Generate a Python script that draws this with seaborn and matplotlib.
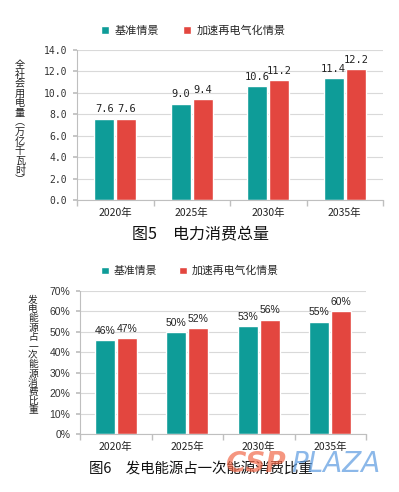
import matplotlib
matplotlib.use("Agg")
import matplotlib.pyplot as plt
import seaborn as sns
import pandas as pd

sns.set_theme(style="white")
plt.rcParams['font.family'] = ['Noto Sans CJK SC', 'DejaVu Sans']

years = ["2020年", "2025年", "2030年", "2035年"]
scenarios = ["基准情景", "加速再电气化情景"]
power_base = [7.6, 9.0, 10.6, 11.4]
power_fast = [7.6, 9.4, 11.2, 12.2]
share_base = [46, 50, 53, 55]
share_fast = [47, 52, 56, 60]
y1_ticks = [0, 2, 4, 6, 8, 10, 12, 14]
y2_ticks = [0, 10, 20, 30, 40, 50, 60, 70]
title1 = "图5　电力消费总量"
title2 = "图6　发电能源占一次能源消费比重"
ylabel1 = "全社会用电量︵万亿千瓦时︶"
ylabel2 = "发电能源占一次能源消费比重"

colors = ["#0E9C98", "#E3463F"]
W, H = 399, 492
fig = plt.figure(figsize=(W / 100, H / 100), dpi=100)
fig.patch.set_facecolor("white")


def px_axes(x0, y0, x1, y1):
    return fig.add_axes([x0 / W, 1 - y1 / H, (x1 - x0) / W, (y1 - y0) / H])


def make_df(a, b):
    return pd.DataFrame({
        "year": years * 2,
        "scenario": [scenarios[0]] * 4 + [scenarios[1]] * 4,
        "value": list(a) + list(b),
    })


def style_axes(ax, ticks, ymax, fmt, tickfont, tickfs):
    ax.set_ylim(0, ymax)
    ax.set_xlim(-0.5, 3.5)
    ax.set_yticks(ticks)
    ax.set_yticklabels([fmt(t) for t in ticks], family=tickfont, fontsize=tickfs, color="#333333")
    ax.yaxis.grid(True, color="#D9D9D9", linewidth=0.8)
    ax.set_axisbelow(True)
    for s in ["top", "right"]:
        ax.spines[s].set_visible(False)
    for s in ["left", "bottom"]:
        ax.spines[s].set_color("#BFBFBF")
        ax.spines[s].set_linewidth(0.8)
    ax.tick_params(axis="y", length=3, color="#BFBFBF", pad=4, left=True)
    ax.tick_params(axis="x", which="major", length=0, pad=6, labelsize=7.5, labelcolor="#222222")
    ax.set_xticks([-0.5, 0.5, 1.5, 2.5, 3.5], minor=True)
    ax.tick_params(axis="x", which="minor", length=4, color="#BFBFBF", bottom=True)
    ax.set_xlabel("")
    ax.set_ylabel("")


def vertical_text(text, xc, ytop, pitch, fs):
    for i, ch in enumerate(text):
        fig.text(xc / W, 1 - (ytop + i * pitch) / H, ch, ha="center", va="center",
                 fontsize=fs, color="#222222")


# Chart 1
ax1 = px_axes(77, 50, 383, 200)
sns.barplot(data=make_df(power_base, power_fast), x="year", y="value", hue="scenario",
            hue_order=scenarios, palette=colors, width=0.58, gap=0.1, saturation=1,
            ax=ax1, errorbar=None)
style_axes(ax1, y1_ticks, 14, lambda t: f"{t:.1f}", "DejaVu Sans Mono", 7)
for c in ax1.containers:
    ax1.bar_label(c, fmt="%.1f", padding=3, fontsize=7.5, family="DejaVu Sans Mono", color="#222222")
sns.move_legend(ax1, "center", bbox_to_anchor=(0.38, 1.13), ncol=2, frameon=False, title=None,
                fontsize=8, handlelength=0.7, handleheight=0.7, columnspacing=2.2, handletextpad=0.5)

# Chart 2
ax2 = px_axes(80, 291, 366, 434)
sns.barplot(data=make_df(share_base, share_fast), x="year", y="value", hue="scenario",
            hue_order=scenarios, palette=colors, width=0.62, gap=0.1, saturation=1,
            ax=ax2, errorbar=None)
style_axes(ax2, y2_ticks, 70, lambda t: f"{t:d}%", "Liberation Sans", 7.5)
for c in ax2.containers:
    ax2.bar_label(c, fmt="%d%%", padding=3, fontsize=7.5, family="Liberation Sans", color="#222222")
sns.move_legend(ax2, "center", bbox_to_anchor=(0.385, 1.14), ncol=2, frameon=False, title=None,
                fontsize=7.8, handlelength=0.7, handleheight=0.7, columnspacing=2.0, handletextpad=0.5)

# Vertical y-labels
vertical_text(ylabel1, 20, 65, 9.6, 7.3)
vertical_text(ylabel2, 33, 300, 9.2, 7.0)

# Titles
fig.text(200 / W, 1 - 235 / H, title1, ha="center", va="center", fontsize=11.5, color="#111111")
fig.text(201 / W, 1 - 470 / H, title2, ha="center", va="center", fontsize=10.4, color="#111111")

# Watermark
fig.text(226 / W, 1 - 464 / H, "CSP", ha="left", va="center", fontsize=20, fontweight="bold",
         style="italic", color="#F26A4B", alpha=0.7, family="DejaVu Sans")
fig.text(291 / W, 1 - 464 / H, "PLAZA", ha="left", va="center", fontsize=20,
         style="italic", color="#5B9BE0", alpha=0.7, family="DejaVu Sans")

fig.savefig("out.png", dpi=100, facecolor="white")
